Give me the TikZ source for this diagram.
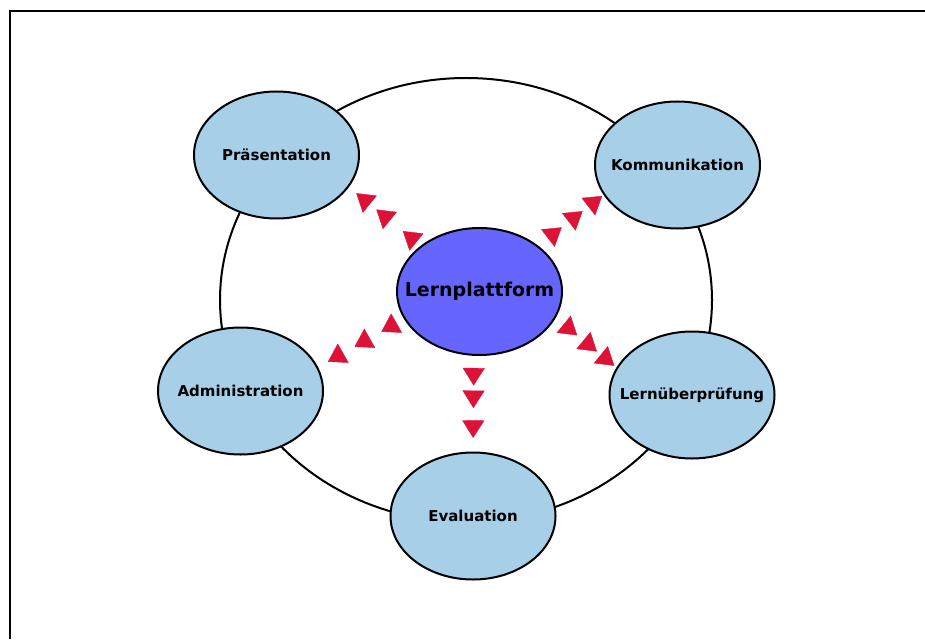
\documentclass[tikz,border=0pt]{standalone}
\usepackage{fontspec}
\setmainfont{DejaVu Sans}
\usetikzlibrary{shapes.geometric,arrows.meta,decorations.markings}
\definecolor{bubblefill}{RGB}{168,207,232}
\definecolor{hubfill}{RGB}{102,102,255}
\definecolor{linkred}{RGB}{220,18,55}
% zero-width label box, so the ellipse size stays fixed
\newcommand\modlabel[1]{\makebox[0pt][c]{#1}}
\tikzset{
  bubble/.style={ellipse, draw=black, line width=2pt, fill=bubblefill,
    minimum width=165pt, minimum height=127pt, inner sep=0pt,
    font=\bfseries\fontsize{15}{18}\selectfont},
  hubnode/.style={bubble, fill=hubfill, font=\bfseries\fontsize{19}{22}\selectfont},
  redtip/.tip={Triangle[length=17.5pt,width=22pt,color=linkred]},
  link/.style n args={3}{decoration={markings,
      mark=at position #1 with {\arrow{redtip}},
      mark=at position #2 with {\arrow{redtip}},
      mark=at position #3 with {\arrow{redtip}}},
    postaction={decorate}},
}
\begin{document}
\begin{tikzpicture}[x=1pt,y=-1pt]
\useasboundingbox (0,0) rectangle (925,639);
\fill[white] (0,0) rectangle (925,639);
% page frame
\draw[line width=1.5pt] (10,639) -- (10,11) -- (925,11);
% ring through the outer modules
\draw[line width=2pt] (466,300) ellipse [x radius=246, y radius=222];

% central platform and its modules
\node[hubnode] (hub) at (479.5,291.5) {\modlabel{Lernplattform}};
\node[bubble] (pres) at (276.5,155) {\modlabel{Präsentation}};
\node[bubble] (komm) at (677.5,165) {\modlabel{Kommunikation}};
\node[bubble] (admin) at (240.5,391) {\modlabel{Administration}};
\node[bubble] (lern) at (692,395) {\modlabel{Lernüberprüfung}};
\node[bubble] (eval) at (473,516) {\modlabel{Evaluation}};

% triple-arrow links from the platform outward
\path[link={0.25}{0.62}{0.9}] (hub.142) -- (pres.-24);
\path[link={0.36}{0.68}{0.98}] (hub.38) -- (komm.202);
\path[link={0.264}{0.577}{0.887}] (hub.200) -- (admin.17);
\path[link={0.354}{0.68}{0.967}] (hub.-19) -- (lern.160);
\path[link={0.31}{0.546}{0.858}] (hub.265) -- (eval.north);
\end{tikzpicture}
\end{document}
